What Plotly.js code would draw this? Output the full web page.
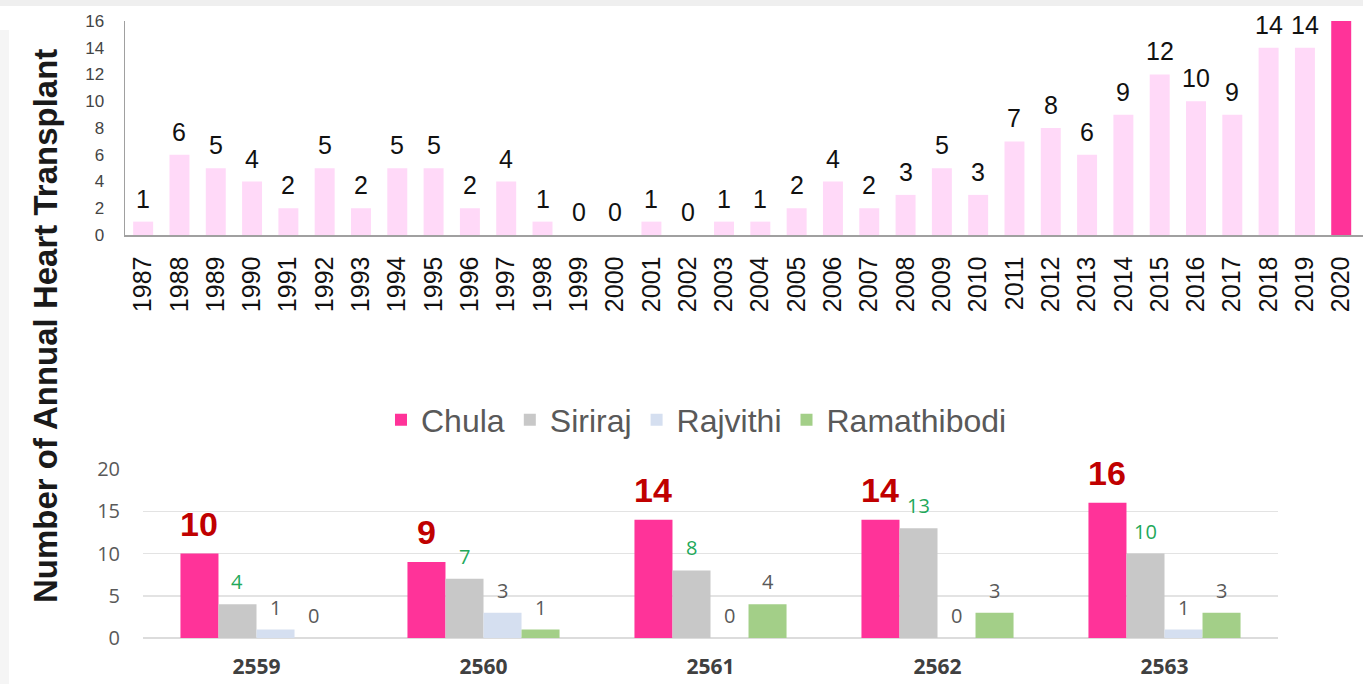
<!DOCTYPE html>
<html>
<head>
<meta charset="utf-8">
<script src="https://cdn.plot.ly/plotly-3.0.1.min.js"></script>
<style>html,body{margin:0;padding:0;background:#fff;}#chart{width:1363px;height:684px;}</style>
</head>
<body>
<div id="chart"></div>
<script>
// Top chart: annual heart transplants (Chula), 1987-2020
const years = ['1987','1988','1989','1990','1991','1992','1993','1994','1995','1996','1997','1998','1999','2000','2001','2002','2003','2004','2005','2006','2007','2008','2009','2010','2011','2012','2013','2014','2015','2016','2017','2018','2019','2020'];
const annualValues = [1,6,5,4,2,5,2,5,5,2,4,1,0,0,1,0,1,1,2,4,2,3,5,3,7,8,6,9,12,10,9,14,14,16];

// Bottom chart: by hospital, Thai Buddhist years
const thaiYears = ['2559','2560','2561','2562','2563'];
const hospitals = ['Chula','Siriraj','Rajvithi','Ramathibodi'];
const chula = [10,9,14,14,16];
const siriraj = [4,7,8,13,10];
const rajvithi = [1,3,0,0,1];
const ramathibodi = [0,1,4,3,3];

const W = 1363, H = 684;
const x2Domain = [143/W, 1278/W];
const bargap = 0.33;

const topColors = annualValues.map((v,i)=> i===annualValues.length-1 ? '#ff3399' : '#ffd9f8');

const traces = [
  {type:'bar', x:years, y:annualValues, xaxis:'x', yaxis:'y', width:0.55,
   marker:{color:topColors}, showlegend:false, hoverinfo:'x+y'},
];

const seriesData = [chula, siriraj, rajvithi, ramathibodi];
const seriesColors = ['#ff3399','#c8c8c8','#d5dff0','#a3cf88'];
const seriesFonts = [
  {family:'Liberation Sans, Arial', size:34, color:'#c00000', weight:'bold'},
  {family:'Open Sans, Liberation Sans', size:20, color:'#22a85a'},
  {family:'Open Sans, Liberation Sans', size:20, color:'#595959'},
  {family:'Open Sans, Liberation Sans', size:20, color:'#595959'}
];
const seriesShift = [9, 7, 7, 7];
hospitals.forEach((h,i)=>{
  traces.push({type:'bar', name:h, x:thaiYears, y:seriesData[i], xaxis:'x2', yaxis:'y2',
    marker:{color:seriesColors[i]}});
});

const annotations = [];
// top value labels (last bar has no label); x given as category index
annualValues.forEach((v,i)=>{
  if (i === annualValues.length-1) return;
  annotations.push({xref:'x', yref:'y', x:i, y:v, text:String(v), showarrow:false,
    yanchor:'bottom', yshift:7, font:{family:'Liberation Sans, Arial', size:25, color:'#111'}});
});
// bottom value labels, shifted to each bar of the group
const catPx = (x2Domain[1]-x2Domain[0])*W/thaiYears.length;
const barPx = catPx*(1-bargap)/hospitals.length;
seriesData.forEach((arr,s)=>{
  arr.forEach((v,j)=>{
    annotations.push({xref:'x2', yref:'y2', x:j, y:v, text:String(v), showarrow:false,
      xshift:(s-(hospitals.length-1)/2)*barPx, yanchor:'bottom', yshift:seriesShift[s],
      font:seriesFonts[s]});
  });
});
annotations.push({text:'<b>Number of Annual Heart Transplant</b>', textangle:-90, xref:'paper', yref:'paper',
  x:45/W, y:1-326/H, xanchor:'center', yanchor:'middle', showarrow:false,
  font:{family:'Liberation Sans, Arial', size:33, color:'#1a1a1a'}});

const layout = {
  width:W, height:H,
  margin:{l:0,r:0,t:0,b:0},
  paper_bgcolor:'#fff', plot_bgcolor:'rgba(0,0,0,0)',
  barmode:'group', bargap:bargap, bargroupgap:0,
  font:{family:'Liberation Sans, Arial', color:'#333'},
  xaxis:{domain:[125/W,1], anchor:'y', type:'category', range:[-0.5,33.6],
    tickangle:-90, tickfont:{size:25,color:'#111'}, showline:true, linecolor:'#a0a0a0', linewidth:1.5,
    ticks:'', showgrid:false, ticklabelstandoff:10, fixedrange:true},
  yaxis:{domain:[1-235/H, 1-21/H], anchor:'x', range:[0,16], dtick:2,
    tickfont:{size:17,color:'#444'}, showline:true, linecolor:'#a0a0a0', linewidth:1.5,
    showgrid:false, zeroline:false, ticks:'', ticklabelstandoff:16, fixedrange:true},
  xaxis2:{domain:x2Domain, anchor:'y2', type:'category', range:[-0.5,4.5],
    tickfont:{family:'Open Sans, Liberation Sans', size:21, color:'#404040', weight:'bold'},
    showline:false, ticks:'', showgrid:false, ticklabelstandoff:14, fixedrange:true},
  yaxis2:{domain:[1-638/H, 1-469/H], anchor:'x2', range:[0,20], dtick:5,
    tickfont:{family:'Open Sans, Liberation Sans', size:20, color:'#595959'},
    showgrid:true, gridcolor:'#e3e3e3', gridwidth:1.5, zeroline:true, zerolinecolor:'#dcdcdc', zerolinewidth:1.5,
    showline:false, ticks:'', ticklabelstandoff:22, fixedrange:true},
  legend:{orientation:'h', x:0.511, xanchor:'center', y:1-420/H, yanchor:'middle',
    font:{family:'Liberation Sans, Arial', size:32, color:'#595959'}, itemwidth:30, traceorder:'normal'},
  annotations:annotations,
  shapes:[
    {type:'rect', xref:'paper', yref:'paper', x0:0, x1:1, y0:1-6/H, y1:1, fillcolor:'#efefef', line:{width:0}, layer:'below'},
    {type:'rect', xref:'paper', yref:'paper', x0:0, x1:9/W, y0:0, y1:1-30/H, fillcolor:'#f5f5f5', line:{width:0}, layer:'below'}
  ]
};

Plotly.newPlot('chart', traces, layout, {displayModeBar:false, staticPlot:true});
</script>
</body>
</html>
